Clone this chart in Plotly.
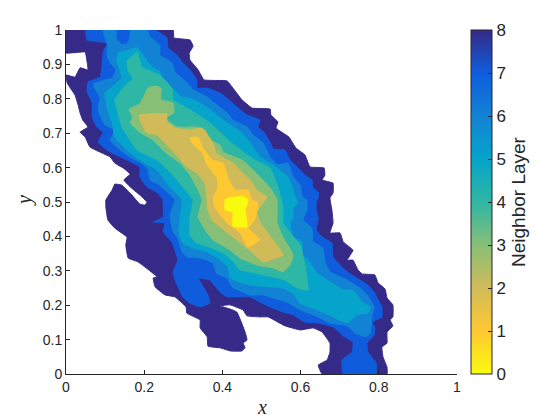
import plotly.graph_objects as go

# outlines of each neighbor layer (x, y in data units)
layer8_x = [0, .274, .276, .317, .325, .315, .317, .338, .353, .412, .427, .450, .476, .522, .524, .542, .537, .570, .588, .611, .624, .660, .662, .655, .683, .683, .675, .680, .683, .675, .701, .709, .734, .719, .734, .747, .757, .790, .798, .816, .821, .836, .836, .829, .836, .821, .821, .808, .811, .821, .821, .655, .645, .668, .675, .675, .655, .632, .599, .560, .517, .496, .463, .453, .419, .394, .420, .437, .458, .463, .453, .458, .450, .420, .394, .363, .361, .343, .343, .309, .307, .279, .253, .228, .223, .233, .202, .184, .159, .153, .156, .125, .107, .102, .102, .118, .125, .143, .164, .189, .202, .207, .189, .164, .148, .164, .146, .125, .113, .087, .061, .049, .036, .056, .043, .036, .031, .023, .003, 0, .023, .036, .056, .054, .049, .010, 0]
layer8_y = [1, 1, .977, .971, .953, .933, .913, .884, .855, .852, .831, .797, .773, .770, .753, .733, .715, .689, .657, .637, .602, .599, .578, .564, .555, .526, .512, .477, .439, .410, .410, .384, .360, .331, .331, .302, .291, .288, .265, .247, .221, .201, .166, .157, .140, .122, .090, .078, .049, .020, 0, 0, .026, .041, .064, .090, .122, .134, .128, .140, .166, .166, .169, .186, .201, .198, .189, .180, .122, .099, .090, .076, .067, .067, .076, .081, .108, .134, .157, .177, .195, .224, .230, .253, .279, .282, .311, .326, .337, .375, .398, .424, .448, .485, .506, .535, .552, .549, .526, .494, .491, .500, .520, .544, .564, .581, .599, .613, .631, .645, .660, .689, .703, .718, .738, .759, .782, .811, .846, .869, .863, .890, .884, .907, .936, .933, .933]

layer7_x = [.051, .228, .258, .261, .284, .297, .317, .335, .335, .361, .394, .412, .437, .463, .496, .491, .506, .522, .530, .560, .573, .591, .611, .629, .632, .645, .645, .640, .640, .645, .640, .655, .680, .683, .696, .719, .744, .772, .790, .798, .808, .808, .783, .790, .788, .770, .772, .793, .793, .709, .706, .732, .734, .706, .683, .645, .611, .581, .555, .522, .496, .471, .445, .412, .394, .368, .338, .348, .363, .368, .343, .317, .299, .279, .274, .286, .271, .248, .253, .223, .248, .248, .235, .207, .189, .189, .156, .113, .082, .095, .079, .067, .067, .054, .056, .087, .092, .095, .105, .054]
layer7_y = [1, 1, .977, .948, .927, .907, .884, .855, .831, .831, .817, .802, .776, .753, .738, .718, .703, .674, .654, .651, .622, .602, .578, .564, .541, .529, .512, .500, .477, .453, .419, .398, .381, .340, .323, .297, .279, .259, .235, .215, .195, .166, .151, .134, .113, .090, .064, .032, 0, 0, .041, .064, .093, .113, .137, .148, .151, .172, .180, .195, .209, .224, .224, .224, .238, .273, .279, .259, .230, .206, .195, .206, .224, .273, .297, .331, .384, .413, .439, .442, .456, .506, .526, .544, .573, .602, .622, .645, .674, .703, .718, .747, .788, .820, .849, .863, .892, .936, .962, .971]

layer6_x = [.095, .128, .128, .141, .156, .164, .164, .207, .215, .240, .240, .271, .279, .310, .325, .361, .386, .412, .427, .463, .478, .504, .522, .542, .568, .581, .599, .604, .616, .616, .606, .629, .632, .657, .662, .675, .719, .752, .770, .788, .783, .778, .767, .739, .719, .675, .645, .599, .565, .530, .504, .471, .425, .412, .386, .376, .343, .310, .297, .286, .274, .266, .279, .258, .240, .215, .210, .194, .164, .138, .113, .125, .100, .082, .087, .069, .100, .118, .128, .113, .105, .107, .100]
layer6_y = [1, 1, .977, .959, .959, .980, 1, 1, .980, .956, .927, .904, .878, .846, .826, .805, .782, .759, .738, .718, .695, .672, .631, .608, .613, .573, .549, .515, .506, .477, .448, .424, .384, .366, .326, .297, .273, .250, .230, .195, .172, .119, .108, .119, .140, .148, .166, .186, .209, .221, .230, .230, .253, .279, .291, .323, .337, .340, .355, .395, .413, .462, .506, .529, .549, .564, .593, .613, .631, .651, .680, .709, .724, .767, .802, .843, .855, .860, .884, .904, .927, .953, .977]

layer5_x = [.133, .151, .182, .202, .215, .240, .251, .271, .297, .317, .343, .376, .402, .420, .450, .471, .496, .522, .547, .568, .578, .586, .593, .581, .581, .573, .581, .604, .604, .619, .642, .668, .709, .734, .757, .778, .772, .744, .719, .683, .645, .599, .581, .555, .522, .488, .471, .445, .420, .414, .389, .361, .325, .299, .289, .292, .297, .266, .233, .189, .156, .125, .118, .105, .100, .120, .143, .138, .130]
layer5_y = [.933, .939, .948, .919, .898, .878, .849, .831, .805, .802, .788, .762, .738, .724, .701, .672, .631, .613, .593, .573, .544, .515, .497, .483, .456, .439, .398, .384, .346, .331, .294, .273, .244, .244, .209, .195, .177, .172, .148, .166, .186, .206, .235, .250, .253, .256, .259, .267, .279, .311, .337, .355, .366, .381, .410, .456, .506, .544, .593, .622, .651, .689, .730, .773, .817, .837, .860, .884, .910]

layer4_x = [.182, .194, .240, .271, .274, .310, .338, .368, .394, .420, .437, .463, .483, .522, .542, .555, .555, .578, .599, .611, .619, .591, .560, .530, .504, .471, .445, .430, .407, .373, .330, .317, .317, .325, .299, .284, .261, .233, .182, .159, .143, .133, .125, .146, .171, .159, .156, .169]
layer4_y = [.936, .892, .869, .831, .797, .773, .753, .730, .703, .674, .660, .637, .622, .599, .544, .485, .439, .404, .375, .317, .244, .250, .273, .282, .288, .297, .302, .323, .349, .366, .384, .404, .456, .506, .544, .564, .593, .622, .651, .689, .718, .759, .797, .831, .860, .881, .910, .924]

layer3_x = [.228, .243, .243, .274, .276, .253, .284, .335, .356, .368, .394, .402, .450, .471, .496, .522, .540, .540, .555, .581, .573, .555, .530, .488, .445, .420, .376, .361, .338, .348, .338, .317, .292, .253, .223, .189, .164, .171, .161, .189, .197, .210]
layer3_y = [.837, .831, .797, .788, .759, .744, .718, .718, .709, .680, .666, .645, .622, .602, .573, .541, .506, .439, .398, .346, .317, .297, .308, .317, .337, .360, .390, .410, .456, .506, .535, .578, .613, .645, .680, .703, .730, .747, .770, .785, .802, .831]

layer2_x = [.189, .258, .258, .279, .317, .348, .376, .384, .427, .471, .488, .514, .488, .496, .529, .555, .522, .504, .478, .414, .373, .361, .361, .355, .335, .309, .271, .233, .207, .189]
layer2_y = [.753, .756, .733, .715, .709, .715, .672, .642, .613, .564, .535, .515, .471, .442, .390, .346, .331, .326, .352, .410, .448, .485, .506, .555, .584, .602, .651, .695, .701, .738]

layer1_x = [.317, .338, .350, .373, .402, .414, .432, .466, .476, .491, .483, .466, .496, .466, .445, .412, .381, .376, .389, .386, .361, .350, .322]
layer1_y = [.686, .689, .657, .622, .613, .570, .535, .535, .506, .497, .448, .424, .390, .369, .410, .439, .485, .512, .541, .570, .608, .642, .672]

layer0_x = [.407, .414, .437, .450, .466, .458, .463, .427, .427, .407]
layer0_y = [.506, .512, .515, .517, .506, .477, .427, .430, .471, .477]

layers = [8, 7, 6, 5, 4, 3, 2, 1, 0]
outlines_x = [layer8_x, layer7_x, layer6_x, layer5_x, layer4_x, layer3_x, layer2_x, layer1_x, layer0_x]
outlines_y = [layer8_y, layer7_y, layer6_y, layer5_y, layer4_y, layer3_y, layer2_y, layer1_y, layer0_y]
x_ticks = [0, 0.2, 0.4, 0.6, 0.8, 1]
y_ticks = [0, 0.1, 0.2, 0.3, 0.4, 0.5, 0.6, 0.7, 0.8, 0.9, 1]
bar_ticks = [0, 1, 2, 3, 4, 5, 6, 7, 8]

# parula, flipped so layer 0 is yellow
colors = ["#f9fb0e", "#fec832", "#d1bb59", "#87bf77", "#2eb7a4", "#06a4ca", "#1283d4", "#0f5ddd", "#352a87"]
scale = [[i / 8, c] for i, c in enumerate(colors)]

fig = go.Figure()
for layer, xs, ys in zip(layers, outlines_x, outlines_y):
    fig.add_trace(go.Scatter(
        x=xs + xs[:1], y=ys + ys[:1], mode="lines", fill="toself",
        fillcolor=colors[layer],
        line=dict(color=colors[layer], width=1, shape="spline", smoothing=0.3),
        hoverinfo="skip", showlegend=False,
    ))

# empty trace that only carries the colorbar
fig.add_trace(go.Scatter(
    x=[None] * 9, y=[None] * 9, mode="markers", showlegend=False,
    marker=dict(
        color=bar_ticks, colorscale=scale, cmin=0, cmax=8, showscale=True,
        colorbar=dict(
            x=1.037, xanchor="left", xpad=0, y=0.5, ypad=0, len=1, thickness=21,
            tickvals=bar_ticks, ticks="inside", ticklen=4, tickcolor="#262626",
            outlinecolor="#262626", outlinewidth=1,
            tickfont=dict(family="Liberation Sans", size=17, color="#262626"),
            title=dict(text="Neighbor Layer", side="right",
                       font=dict(family="Liberation Sans", size=19, color="#262626")),
        ),
    ),
))

axis_style = dict(
    range=[0, 1], showgrid=False, zeroline=False, showline=True, linecolor="#262626",
    linewidth=1, ticks="inside", ticklen=4, tickcolor="#262626",
    tickfont=dict(family="Liberation Sans", size=14, color="#262626"),
)
fig.update_xaxes(axis_style, tickvals=x_ticks, ticktext=[f"{v:g}" for v in x_ticks])
fig.update_yaxes(axis_style, tickvals=y_ticks, ticktext=[f"{v:g}" for v in y_ticks])

label_font = dict(family="Liberation Serif", size=20, color="#262626")
fig.add_annotation(text="<i>x</i>", xref="paper", yref="paper", x=0.5, y=-0.096,
                   xanchor="center", yanchor="middle", showarrow=False, font=label_font)
fig.add_annotation(text="<i>y</i>", xref="paper", yref="paper", x=-0.105, y=0.506,
                   xanchor="center", yanchor="middle", textangle=-90, showarrow=False, font=label_font)

# the page keeps its 8px body margin, so the figure starts at (8, 8)
fig.update_layout(
    width=552, height=412, plot_bgcolor="white", paper_bgcolor="white",
    margin=dict(l=58, r=103, t=22, b=46),
)
fig.write_html("out.html")
